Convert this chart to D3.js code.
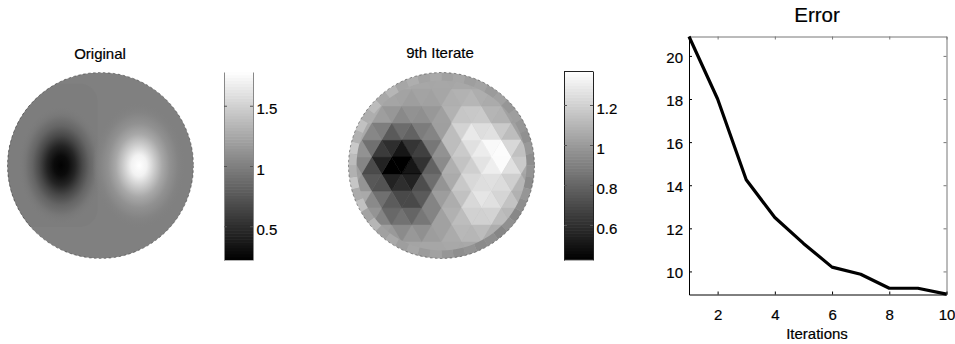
<!DOCTYPE html>
<html>
<head>
<meta charset="utf-8">
<script src="https://cdn.jsdelivr.net/npm/d3@7"></script>
<style>
  html, body { margin: 0; padding: 0; background: #fff; overflow: hidden; }
  text { font-family: "Liberation Sans", Arial, sans-serif; fill: #000; stroke: #000; stroke-width: 0.2px; }
</style>
</head>
<body>
<div id="root"></div>
<script>
// error curve
const iterations = [1, 2, 3, 4, 5, 6, 7, 8, 9, 10];
const errorValues = [20.9, 18, 14.25, 12.5, 11.3, 10.2, 9.87, 9.22, 9.22, 8.95];
const iterTicks = [2, 4, 6, 8, 10];
const errorTicks = [10, 12, 14, 16, 18, 20];

// colorbars
const originalRange = [0.22, 1.78];
const originalTicks = [0.5, 1, 1.5];
const iterateRange = [0.425, 1.37];
const iterateTicks = [0.6, 0.8, 1, 1.2];

// original field: value at the blob centre going out to the blob edge
const darkBlob = [0.23, 0.29, 0.44, 0.66, 0.84, 0.95, 0.985];
const lightBlob = [1.78, 1.7, 1.47, 1.25, 1.11, 1.03, 1.0];
const lobeValue = 0.985;
const backgroundValue = 1.0;

// 9th iterate: mesh node values, row by row, top to bottom
const meshRows = [
  [1.04, 1.04, 1.04, 1.04, 1.04, 1.04, 1.03, 1.03, 1.02, 1.01, 1.01],
  [1.06, 1.06, 1.06, 1.05, 1.04, 1.05, 1.06, 1.05, 1.02, 1.0],
  [1.1, 1.08, 1.07, 0.98, 1.0, 1.03, 1.14, 1.1, 1.03, 0.98, 0.98],
  [1.1, 1.06, 0.9, 0.92, 0.94, 1.08, 1.26, 1.16, 1.06, 0.98],
  [1.12, 1.0, 0.72, 0.66, 0.78, 1.02, 1.28, 1.32, 1.3, 1.02, 0.98],
  [1.1, 0.8, 0.4, 0.42, 0.8, 1.08, 1.16, 1.42, 1.36, 1.04],
  [1.08, 0.85, 0.46, 0.44, 0.62, 0.94, 1.2, 1.22, 1.28, 1.12, 0.98],
  [1.12, 0.95, 0.78, 0.58, 0.94, 1.04, 1.26, 1.26, 1.18, 1.0],
  [1.12, 1.08, 0.78, 0.74, 0.76, 1.04, 1.12, 1.3, 1.2, 1.06, 0.98],
  [1.12, 1.06, 0.9, 0.9, 0.94, 1.08, 1.18, 1.12, 1.06, 1.0],
  [1.1, 1.08, 1.06, 1.02, 1.04, 1.04, 1.06, 1.06, 1.03, 0.99, 0.97],
  [1.06, 1.05, 1.04, 1.04, 1.04, 1.04, 1.03, 1.02, 1.0, 0.98]
];
// finer mesh along the rim, clockwise from the top
const rimValues = [
  1.02, 1.04, 1.01, 1.03, 1.0, 1.02, 0.98, 1.01, 0.98, 0.96, 0.99, 0.95,
  0.97, 0.94, 0.98, 0.95, 0.93, 0.96, 0.92, 0.95, 0.94, 0.97, 0.95, 0.98,
  1.02, 1.0, 1.04, 1.01, 1.05, 1.02, 1.1, 1.03, 1.14, 1.06, 1.16, 1.08,
  1.12, 1.17, 1.08, 1.14, 1.07, 1.12, 1.05, 1.1, 1.04, 1.07, 1.03, 1.05
];

const svg = d3.select("#root").append("svg")
  .attr("width", 955)
  .attr("height", 344);
const defs = svg.append("defs");
defs.append("filter").attr("id", "soft")
  .append("feGaussianBlur").attr("stdDeviation", 0.75);

// disc coordinates run -1..1 on both axes
let discScales = (cx, cy, r) => ({
  x: d3.scaleLinear().domain([-1, 1]).range([cx - r, cx + r]),
  y: d3.scaleLinear().domain([-1, 1]).range([cy - r, cy + r]),
  cx: cx, cy: cy, r: r
});

let discClip = (id, d) => {
  defs.append("clipPath").attr("id", id)
    .append("circle").attr("cx", d.cx).attr("cy", d.cy).attr("r", d.r);
};

let discEdge = d => {
  svg.append("circle")
    .attr("cx", d.cx).attr("cy", d.cy).attr("r", d.r)
    .attr("fill", "none")
    .attr("stroke", "#222")
    .attr("stroke-opacity", 0.6)
    .attr("stroke-width", 0.8)
    .attr("stroke-dasharray", "2.5 2.5");
};

let colorbar = (x0, x1, y0, y1, domain, ticks, edge) => {
  let y = d3.scaleLinear().domain(domain).range([y1, y0]);
  let gray = d3.scaleLinear().domain(domain).range(["#000", "#fff"]);
  let levels = d3.range(64).map(i => domain[0] + (i + 0.5) * (domain[1] - domain[0]) / 64);
  let step = (y1 - y0) / 64;
  svg.append("g").selectAll("rect").data(levels).join("rect")
    .attr("x", x0)
    .attr("width", x1 - x0)
    .attr("y", d => y(d) - step / 2 - 0.3)
    .attr("height", step + 0.6)
    .attr("fill", d => gray(d));
  let axisR = d3.axisRight(y).tickValues(ticks).tickSizeInner(-3).tickSizeOuter(0).tickPadding(3.5)
    .tickFormat(d3.format("~g"));
  let axisL = d3.axisLeft(y).tickValues(ticks).tickSizeInner(-3).tickSizeOuter(0).tickFormat("");
  let gr = svg.append("g").attr("transform", `translate(${x1},0)`).call(axisR);
  let gl = svg.append("g").attr("transform", `translate(${x0},0)`).call(axisL);
  [gr, gl].forEach(g => {
    g.select(".domain").attr("stroke", edge);
    g.selectAll("line").attr("stroke", "#555");
  });
  gr.selectAll("text").attr("font-size", 15).attr("dy", "0.55em");
  if (edge === "#222") {
    svg.append("line").attr("x1", x0).attr("x2", x1).attr("y1", y0 + 0.5).attr("y2", y0 + 0.5).attr("stroke", edge);
    svg.append("line").attr("x1", x0).attr("x2", x1).attr("y1", y1 - 0.5).attr("y2", y1 - 0.5).attr("stroke", edge);
  }
};

let title = (x, y, s, size) => {
  svg.append("text")
    .attr("x", x).attr("y", y)
    .attr("text-anchor", "middle")
    .attr("font-size", size)
    .text(s);
};

// ---- Original ----
let drawOriginal = () => {
  let d = discScales(100.5, 165.5, 93);
  let gray = d3.scaleLinear().domain(originalRange).range(["#000", "#fff"]);
  discClip("clipA", d);
  let g = svg.append("g").attr("clip-path", "url(#clipA)");
  g.append("rect")
    .attr("x", d.x(-1)).attr("y", d.y(-1))
    .attr("width", d.r * 2).attr("height", d.r * 2)
    .attr("fill", gray(backgroundValue));
  // the faint lobe on the left half
  g.append("rect")
    .attr("x", d.x(-1.2)).attr("y", d.y(-0.88))
    .attr("width", d.x(-0.03) - d.x(-1.2))
    .attr("height", d.y(0.66) - d.y(-0.88))
    .attr("rx", 18)
    .attr("fill", gray(lobeValue));

  let blob = (id, values, cx, cy, rx, ry) => {
    let off = d3.scaleLinear().domain([0, values.length - 1]).range([0, 1]);
    let grad = defs.append("radialGradient").attr("id", id);
    grad.selectAll("stop").data(values).join("stop")
      .attr("offset", (v, i) => off(i))
      .attr("stop-color", v => gray(v))
      .attr("stop-opacity", (v, i) => i === values.length - 1 ? 0 : 1);
    g.append("ellipse")
      .attr("cx", d.x(cx)).attr("cy", d.y(cy))
      .attr("rx", d.x(rx) - d.x(0)).attr("ry", d.y(ry) - d.y(0))
      .attr("fill", `url(#${id})`);
  };
  blob("darkBlob", darkBlob, -0.425, 0, 0.46, 0.64);
  blob("lightBlob", lightBlob, 0.414, 0, 0.5, 0.68);
  discEdge(d);
};

// ---- 9th Iterate ----
let drawIterate = () => {
  let d = discScales(441.5, 165.5, 93);
  let gray = d3.scaleLinear().domain(iterateRange).range(["#000", "#fff"]).clamp(true);
  discClip("clipB", d);
  let g = svg.append("g").attr("clip-path", "url(#clipB)");
  let inner = g.append("g").attr("filter", "url(#soft)");

  let colX = d3.scaleLinear().domain([0, 20]).range([d.cx - 100, d.cx + 100]);
  let rowY = d3.scaleLinear().domain([0, meshRows.length - 1]).range([d.cy - 93.5, d.cy + 93.5]);
  let nodes = [];
  meshRows.forEach((row, r) => {
    row.forEach((v, c) => {
      nodes.push({ x: colX(c * 2 + (r % 2)), y: rowY(r), v: v });
    });
  });
  let delaunay = d3.Delaunay.from(nodes, n => n.x, n => n.y);
  let tris = d3.range(delaunay.triangles.length / 3).map(i => {
    return [0, 1, 2].map(k => nodes[delaunay.triangles[i * 3 + k]]);
  });
  inner.append("rect")
    .attr("x", d.x(-1)).attr("y", d.y(-1))
    .attr("width", d.r * 2).attr("height", d.r * 2)
    .attr("fill", gray(1.04));
  inner.selectAll("path.tri").data(tris).join("path")
    .attr("class", "tri")
    .attr("d", t => "M" + t.map(n => n.x + "," + n.y).join("L") + "Z")
    .attr("fill", t => gray(d3.mean(t, n => n.v)))
    .attr("stroke", t => gray(d3.mean(t, n => n.v)))
    .attr("stroke-width", 0.5);

  let angle = d3.scaleLinear().domain([0, rimValues.length]).range([0, 2 * Math.PI]);
  let arc = d3.arc().innerRadius(d.r - 8).outerRadius(d.r + 1);
  inner.append("g")
    .attr("transform", `translate(${d.cx},${d.cy})`)
    .selectAll("path").data(rimValues).join("path")
    .attr("d", (v, i) => arc({ startAngle: angle(i), endAngle: angle(i + 1) }))
    .attr("fill", v => gray(v));
  discEdge(d);
};

// ---- Error ----
let drawError = () => {
  let x = d3.scaleLinear().domain([1, 10]).range([689, 946.5]);
  let y = d3.scaleLinear().domain([8.93, 20.9]).range([294.5, 36.5]);

  svg.append("g").attr("transform", "translate(0,36.5)")
    .call(d3.axisTop(x).tickValues(iterTicks).tickSizeInner(-3).tickSizeOuter(0).tickFormat(""))
    .call(a => a.selectAll("line,path").attr("stroke", "#777"));
  svg.append("g").attr("transform", "translate(946.5,0)")
    .call(d3.axisRight(y).tickValues(errorTicks).tickSizeInner(-3).tickSizeOuter(0).tickFormat(""))
    .call(a => a.selectAll("line,path").attr("stroke", "#777"));

  let xg = svg.append("g").attr("transform", "translate(0,294.5)")
    .call(d3.axisBottom(x).tickValues(iterTicks).tickSizeInner(-3).tickSizeOuter(0).tickPadding(15));
  let yg = svg.append("g").attr("transform", "translate(689,0)")
    .call(d3.axisLeft(y).tickValues(errorTicks).tickSizeInner(-3).tickSizeOuter(0).tickPadding(6));
  [xg, yg].forEach(a => a.selectAll("text").attr("font-size", 15));
  yg.selectAll("text").attr("dy", "0.42em");

  let line = d3.line().x((d, i) => x(iterations[i])).y(d => y(d));
  svg.append("path")
    .datum(errorValues)
    .attr("fill", "none")
    .attr("stroke", "#000")
    .attr("stroke-width", 3.2)
    .attr("stroke-linejoin", "round")
    .attr("d", line);
};

drawOriginal();
drawIterate();
drawError();
colorbar(224, 253, 72, 260, originalRange, originalTicks, "#888");
colorbar(564, 593, 71, 260, iterateRange, iterateTicks, "#222");

title(100, 59, "Original", 15);
title(440, 58, "9th Iterate", 15);
title(817, 22, "Error", 20.5);
title(817, 339, "Iterations", 15);
</script>
</body>
</html>
